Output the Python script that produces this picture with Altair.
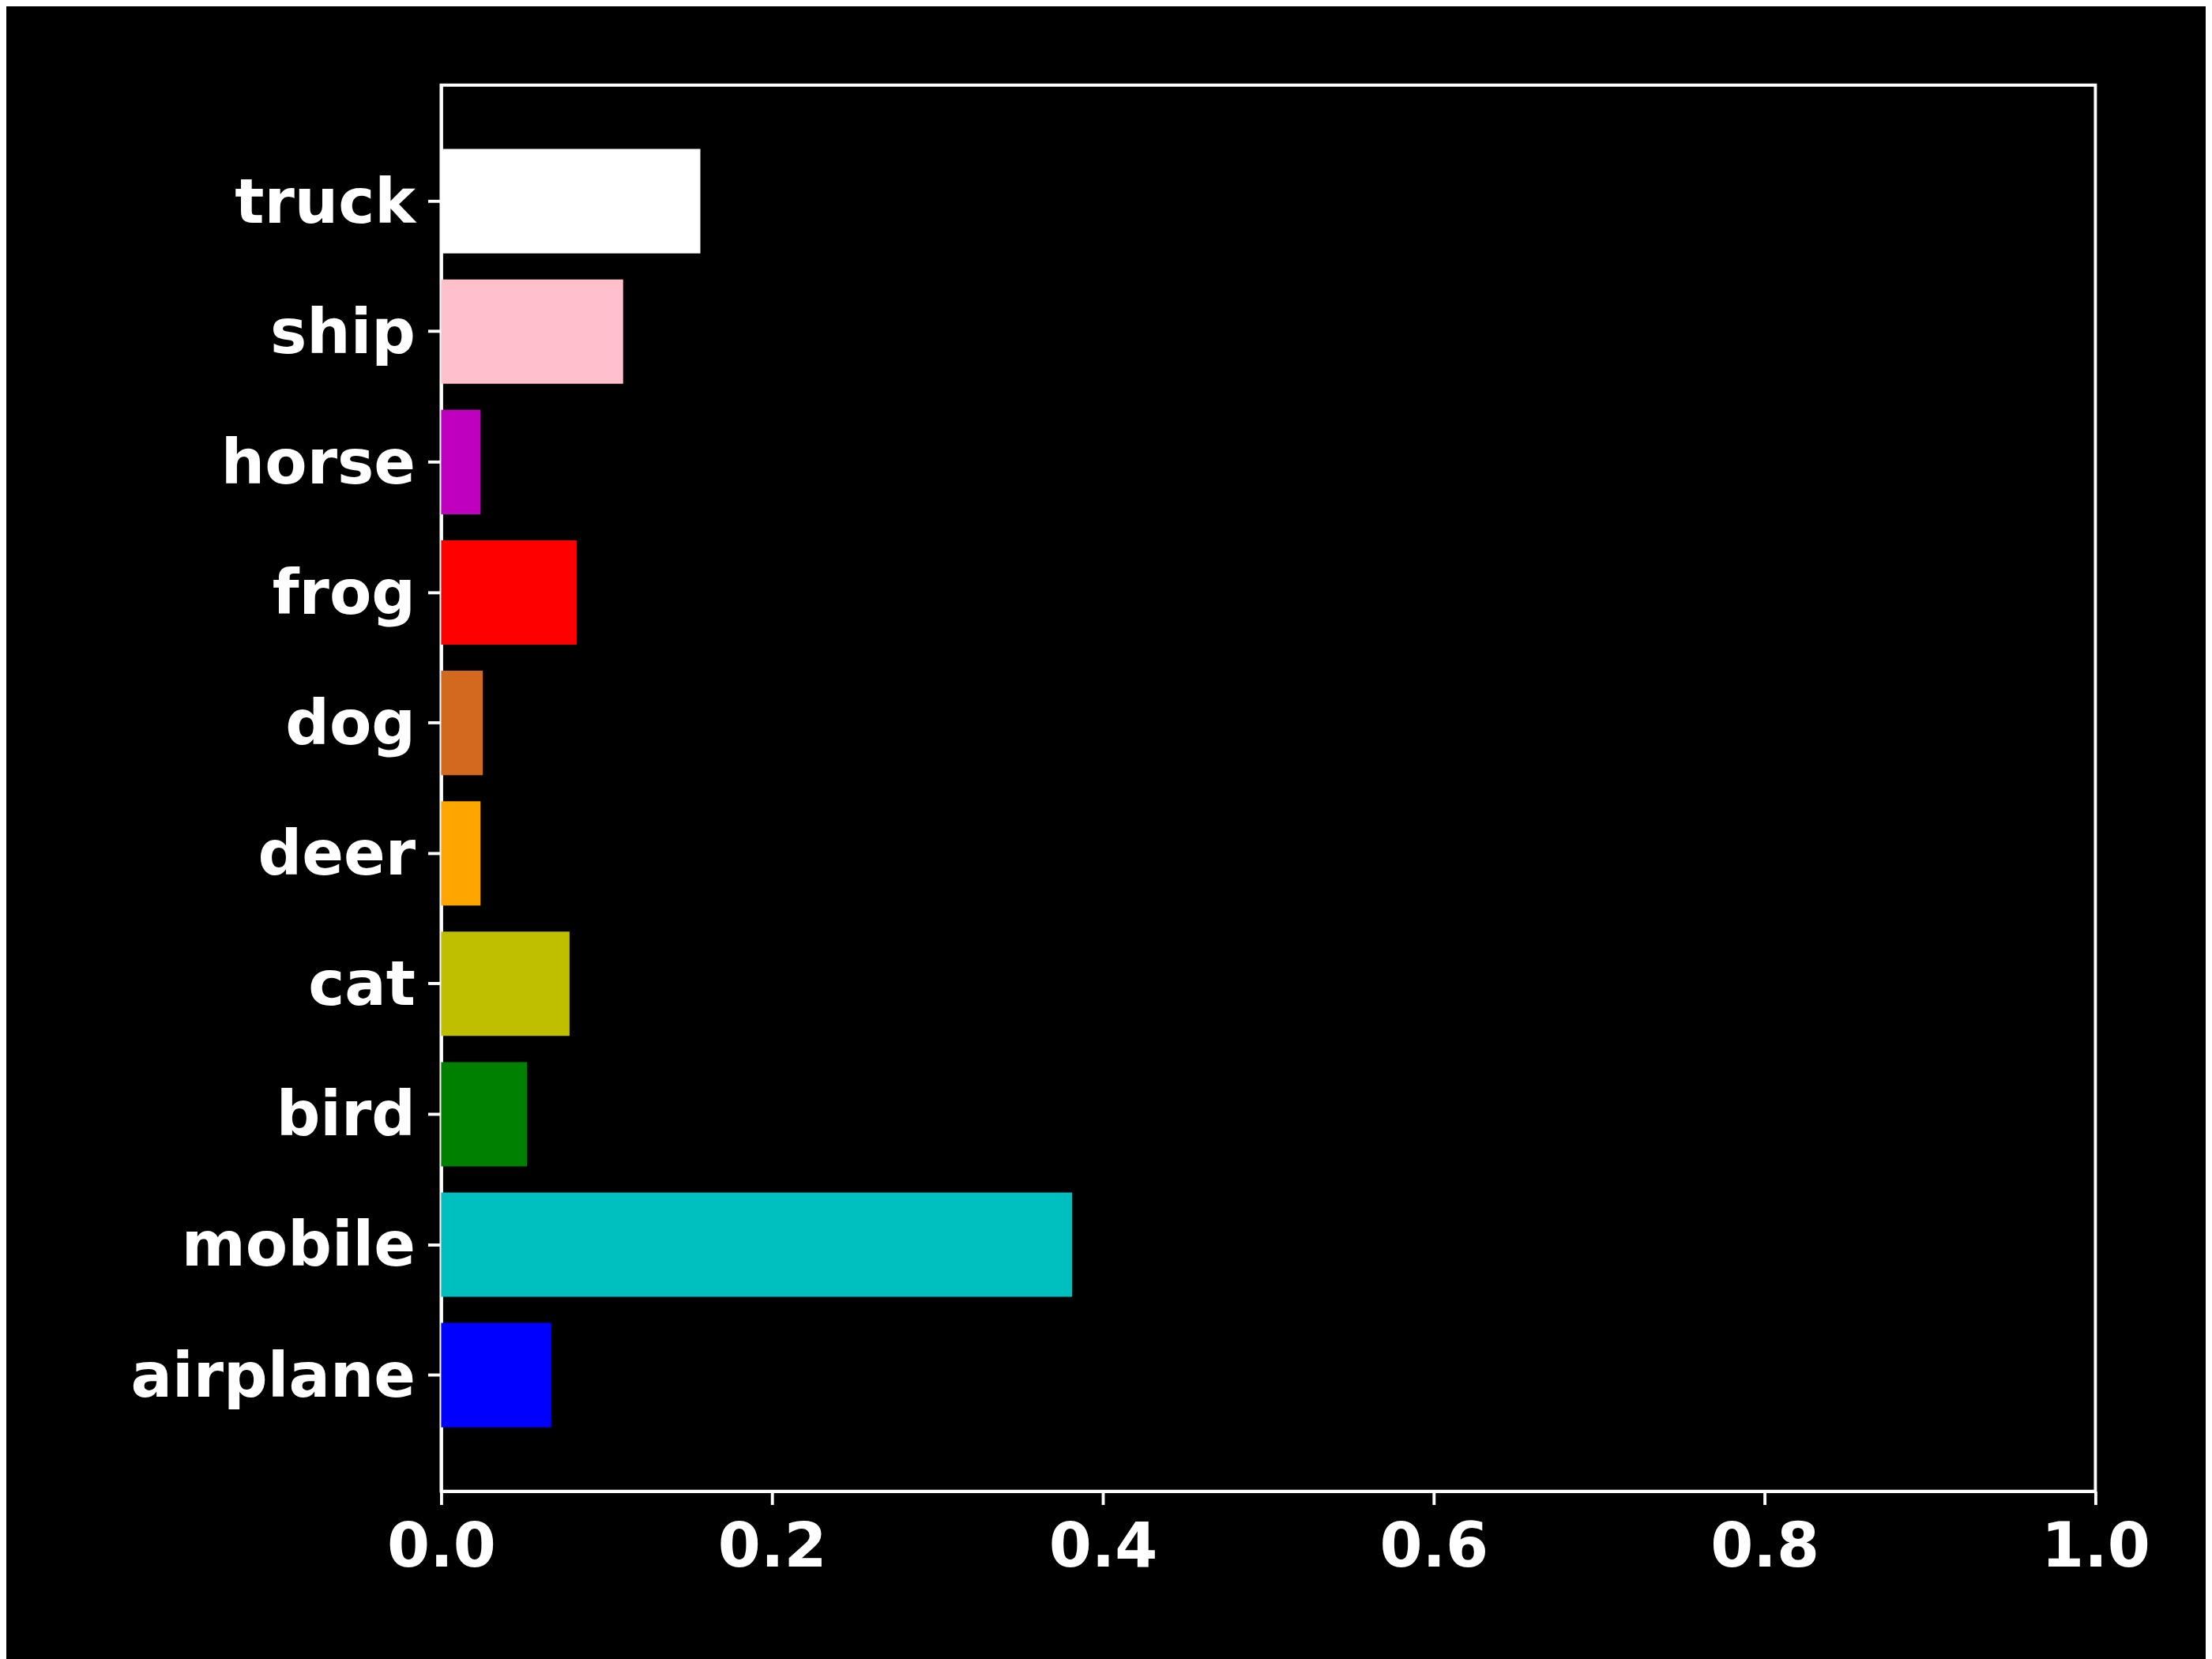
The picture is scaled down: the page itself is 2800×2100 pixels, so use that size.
import altair as alt
import pandas as pd

categories = ["airplane", "mobile", "bird", "cat", "deer", "dog", "frog", "horse", "ship", "truck"]
values = [0.0665, 0.3814, 0.0519, 0.0776, 0.0238, 0.0252, 0.0819, 0.0238, 0.1100, 0.1567]
colors = ["#0000FF", "#00BFBF", "#008000", "#BFBF00", "#FFA500", "#D2691E", "#FF0000", "#BF00BF", "#FFC0CB", "#FFFFFF"]
x_ticks = [0.0, 0.2, 0.4, 0.6, 0.8, 1.0]

df = pd.DataFrame({"category": categories, "value": values, "color": colors})

font = "DejaVu Sans"

chart = alt.Chart(df).mark_bar(strokeWidth=0).encode(
    x=alt.X("value:Q",
            scale=alt.Scale(domain=[0, 1], nice=False, zero=True),
            axis=alt.Axis(values=x_ticks, format=".1f", title=None, grid=False,
                          domainColor="white", domainWidth=3.9,
                          tickColor="white", tickWidth=3.9, tickSize=17,
                          labelColor="white", labelFont=font, labelFontWeight="bold",
                          labelFontSize=78, labelPadding=16, labelFlush=False)),
    y=alt.Y("category:N", sort=categories[::-1],
            scale=alt.Scale(paddingInner=0.2, paddingOuter=0.49),
            axis=alt.Axis(title=None, domainColor="white", domainWidth=3.9,
                          tickColor="white", tickWidth=3.9, tickSize=17,
                          labelColor="white", labelFont=font, labelFontWeight="bold",
                          labelFontSize=78, labelPadding=16, labelLimit=1000,
                          labelOffset=4)),
    color=alt.Color("color:N", scale=None),
).properties(
    width=2100,
    height=1785,
    background="black",
    autosize=alt.AutoSizeParams(type="none"),
    padding={"left": 552, "top": 97, "right": 140, "bottom": 210},
).configure_view(
    stroke="white", strokeWidth=3.9, fill="black"
)

chart.save("out.html", embed_options={"renderer": "svg", "actions": False})
